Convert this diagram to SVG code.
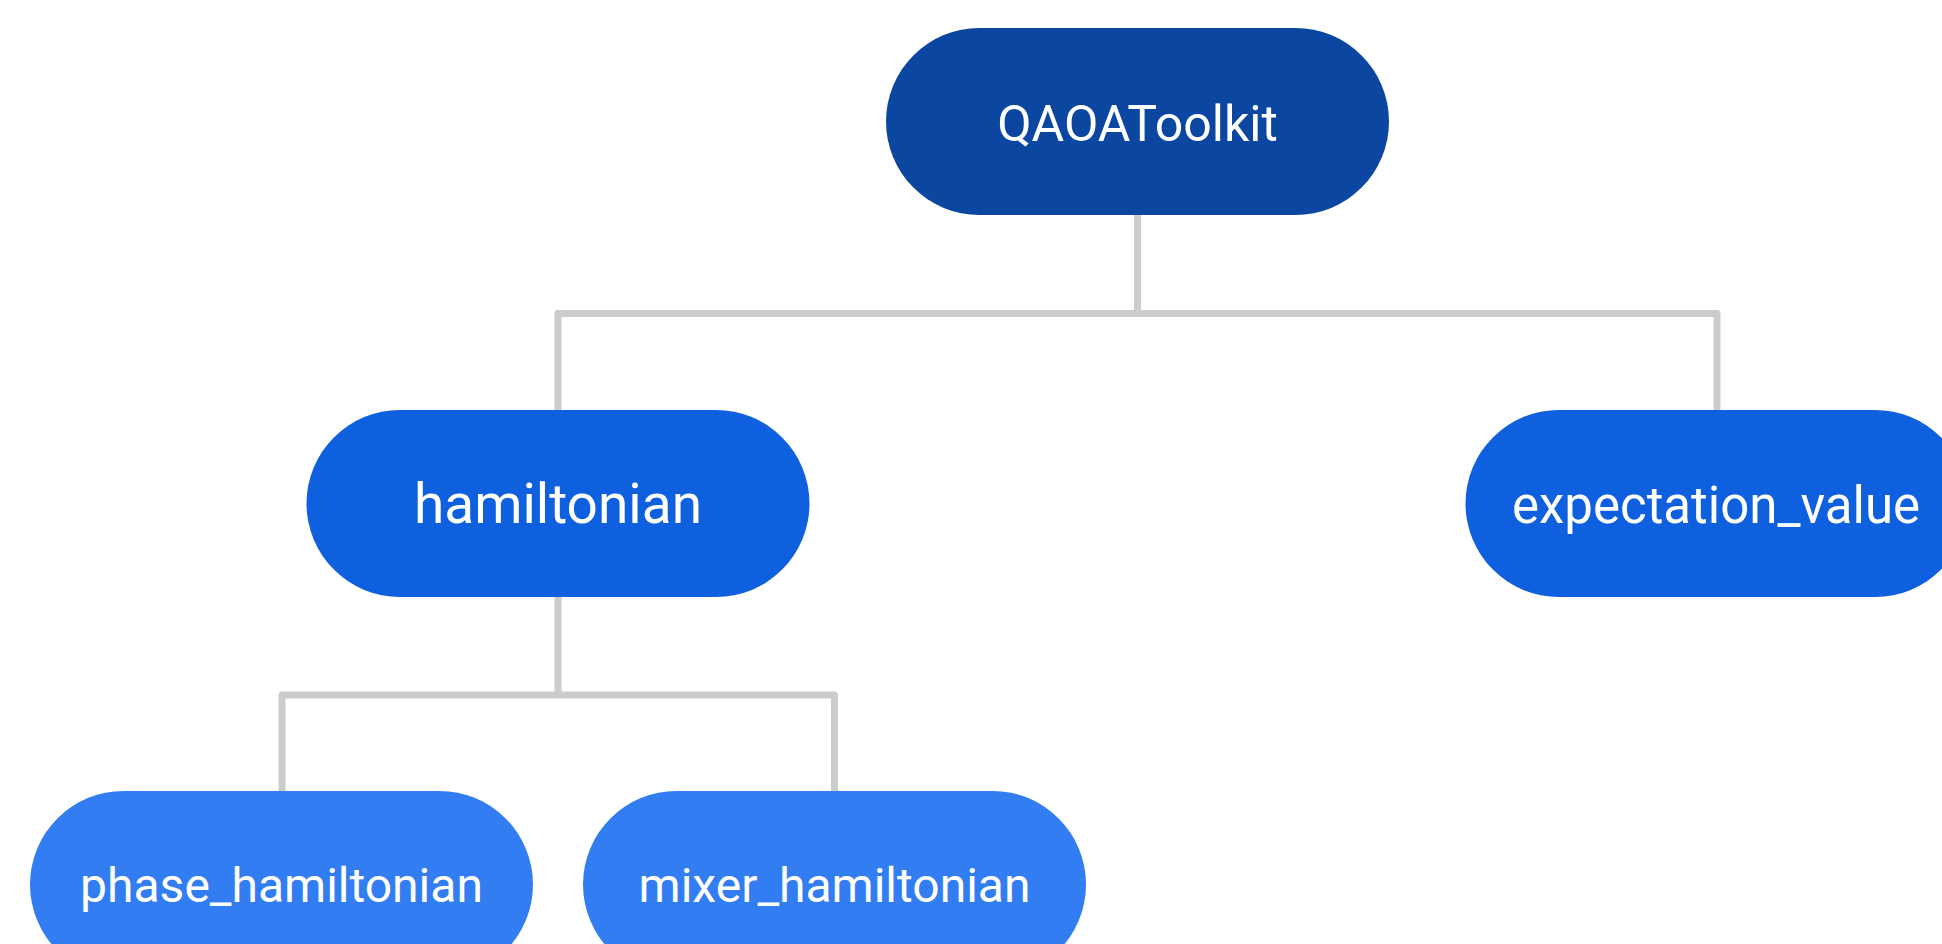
<svg xmlns="http://www.w3.org/2000/svg" width="1942" height="944" viewBox="0 0 1942 944">
  <style>
    .edge { fill: none; stroke: #cccccc; stroke-width: 7; stroke-linejoin: round; }
    .lbl { font-family: Roboto, "Liberation Sans", sans-serif; fill: #ffffff; text-anchor: middle; }
    .l0 { fill: #0b47a1; }
    .l1 { fill: #0f60df; }
    .l2 { fill: #327df2; }
  </style>
  <rect width="1942" height="944" fill="#ffffff"/>
  <g id="connectors">
    <path class="edge" d="M1137.5,214 V313.5"/>
    <path class="edge" d="M558,411 V313.5 H1717 V411"/>
    <path class="edge" d="M558,596 V695 "/>
    <path class="edge" d="M282,792 V695 H834.5 V792"/>
  </g>
  <g id="node-qaoatoolkit">
    <rect class="l0" x="886" y="28" width="503" height="187" rx="93.5" ry="93.5"/>
    <text class="lbl" x="1137.5" y="141" font-size="50">QAOAToolkit</text>
  </g>
  <g id="node-hamiltonian">
    <rect class="l1" x="306.5" y="410" width="503" height="187" rx="93.5" ry="93.5"/>
    <text class="lbl" x="558" y="523" font-size="55">hamiltonian</text>
  </g>
  <g id="node-expectation-value">
    <rect class="l1" x="1465.5" y="410" width="503" height="187" rx="93.5" ry="93.5"/>
    <text class="lbl" x="1716" y="522.5" font-size="51">expectation_value</text>
  </g>
  <g id="node-phase-hamiltonian">
    <rect class="l2" x="30" y="791" width="503" height="187" rx="93.5" ry="93.5"/>
    <text class="lbl" x="281.5" y="901.5" font-size="48">phase_hamiltonian</text>
  </g>
  <g id="node-mixer-hamiltonian">
    <rect class="l2" x="583" y="791" width="503" height="187" rx="93.5" ry="93.5"/>
    <text class="lbl" x="834.5" y="901.5" font-size="48">mixer_hamiltonian</text>
  </g>
</svg>
